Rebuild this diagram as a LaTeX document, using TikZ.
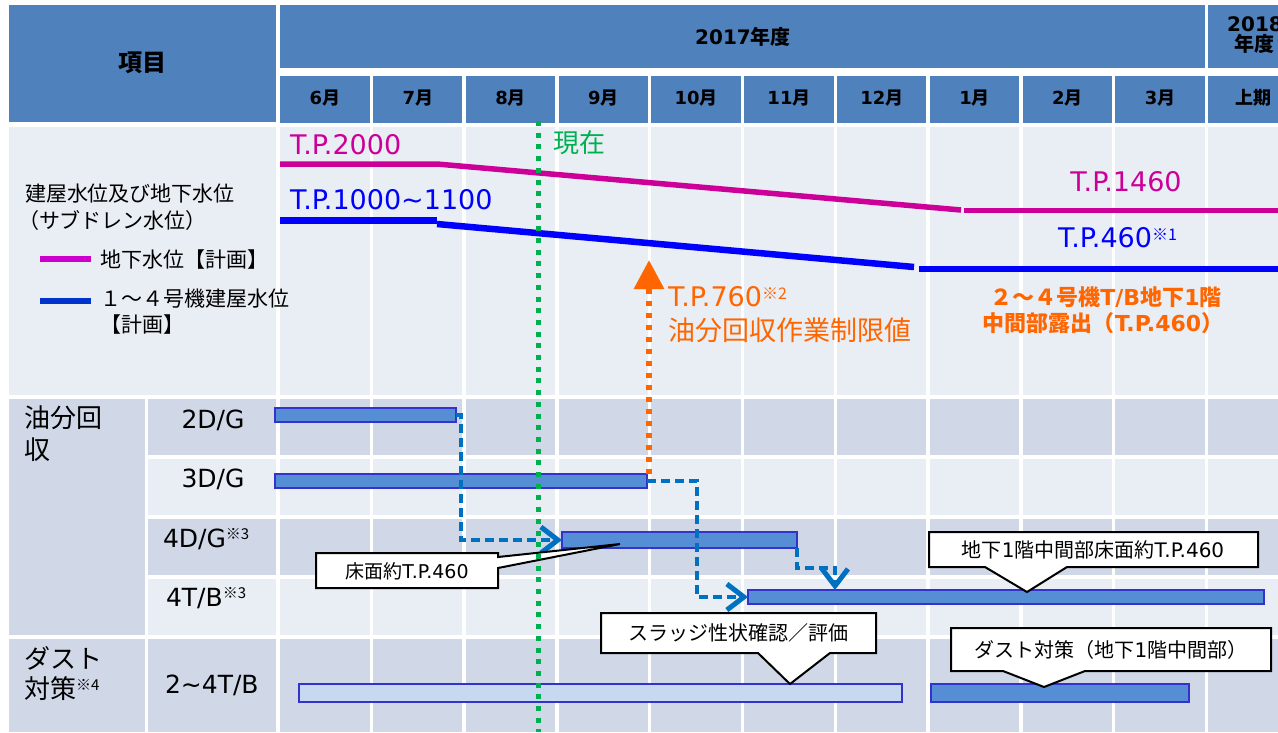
\documentclass[tikz,border=0pt]{standalone}
\usepackage{fontspec}
\setmainfont{DejaVu Sans}
\newfontfamily\J{Noto Sans CJK JP}
\usetikzlibrary{arrows.meta,calc}
\newcommand\sz[1]{\fontsize{#1}{#1}\selectfont}
\newcommand\kome[3]{\raisebox{#2pt}{\sz{#1}\J ※#3}}
\definecolor{hdr}{HTML}{4F81BD}
\definecolor{rowA}{HTML}{D0D8E8}
\definecolor{rowB}{HTML}{E9EDF4}
\definecolor{barF}{HTML}{558ED5}
\definecolor{barE}{HTML}{3333CC}
\definecolor{barL}{HTML}{C6D9F1}
\definecolor{mag}{HTML}{CC0099}
\definecolor{magL}{HTML}{CC00CC}
\definecolor{blu}{HTML}{0000FF}
\definecolor{bluL}{HTML}{0033CC}
\definecolor{grn}{HTML}{00B050}
\definecolor{org}{HTML}{FF6600}
\definecolor{conn}{HTML}{0070C0}
\tikzset{
  bar/.style={draw=barE, fill=barF, line width=2.5pt, inner sep=0pt, outer sep=0pt},
  barlight/.style={bar, fill=barL},
  connector/.style={draw=conn, line width=3.5pt, dash pattern=on 9pt off 5pt, -{Straight Barb[length=17pt,width=26pt,line width=5pt]}},
  callout/.style={draw=black, fill=white, line width=2pt, line join=miter},
  txt/.style={inner sep=0pt, outer sep=0pt},
  lt/.style={txt, anchor=west},
  hd/.style={txt, font=\sz{20}\bfseries},
  month/.style={txt, font=\sz{18}\bfseries},
}
\begin{document}
\begin{tikzpicture}[x=1pt, y=-1pt]
\useasboundingbox (0,0) rectangle (1278,732);
\clip (0,0) rectangle (1278,732);
% ---------- header
\fill[hdr] (9,5) rectangle (276,122);
\fill[hdr] (279.5,5) rectangle (1278,68);
\fill[hdr] (279.5,75.5) rectangle (1278,122.5);
\draw[white, line width=3.5pt] (1206.5,0) -- (1206.5,75);
% ---------- body rows
\fill[rowB] (9,127) rectangle (1278,395);
\fill[rowA] (9,398.5) rectangle (1278,455);
\fill[rowB] (9,459) rectangle (1278,515);
\fill[rowA] (9,519) rectangle (1278,575);
\fill[rowB] (9,579) rectangle (1278,635);
\fill[rowA] (9,639) rectangle (1278,732);
\fill[rowA] (9,398.5) rectangle (145,635);
\fill[rowA] (9,639) rectangle (145,732);
\draw[white, line width=3.5pt] (278,122) -- (278,732);
\draw[white, line width=3pt] (146.5,395) -- (146.5,732);
\foreach \i in {1,...,10} \draw[white, line width=3.5pt] ({278.5+92.8*\i},75) -- ({278.5+92.8*\i},732);
% ---------- header texts
\node[hd, font=\sz{24}\J\bfseries] (hitem) at (142,63) {項目};
\node[hd] (y2017) at (743,36.5) {2017{\J 年度}};
\node[hd] (y2018a) at (1255,24) {2018};
\node[hd] (y2018b) at (1254,44) {\J 年度};
\foreach \m [count=\i from 0] in {6,7,8,9,10,11,12,1,2,3}
  \node[month] (m\i) at ({325+92.8*\i},98) {\m{\J 月}};
\node[month] (mup) at (1253,98) {\J 上期};
% ---------- left legend
\node[lt, font=\sz{21}\J] (lg1) at (25,194) {建屋水位及び地下水位};
\node[lt, font=\sz{21}\J] (lg2) at (18,221) {（サブドレン水位）};
\draw[magL, line width=6pt] (40,259) -- (91,259);
\node[lt, font=\sz{21}\J] (lg3) at (100,260) {地下水位【計画】};
\draw[bluL, line width=6pt] (40,301) -- (91,301);
\node[lt, font=\sz{21}\J] (lg4) at (100,299) {１～４号機建屋水位};
\node[lt, font=\sz{21}\J] (lg5) at (100,325) {【計画】};
% ---------- row labels
\node[lt, font=\sz{26}\J] (g1a) at (24,418) {油分回};
\node[lt, font=\sz{26}\J] (g1b) at (24,450) {収};
\node[lt, font=\sz{26}\J] (g2a) at (24,658) {ダスト};
\node[lt, font=\sz{26}\J] (g2b) at (24,689) {対策\kome{15}{8}{4}};
\node[txt, font=\sz{25}] (l2dg) at (213,420) {2D/G};
\node[txt, font=\sz{25}] (l3dg) at (213,479) {3D/G};
\node[lt, font=\sz{25}] (l4dg) at (163,539) {4D/G\kome{15}{8}{3}};
\node[lt, font=\sz{25}] (l4tb) at (166,598) {4T/B\kome{15}{8}{3}};
\node[lt, font=\sz{25}] (ldust) at (165,685) {2\textasciitilde 4T/B};
% ---------- water level lines
\draw[mag, line width=5.5pt] (280,164) -- (437,164) -- (961,210);
\draw[mag, line width=5.5pt] (964,210.5) -- (1278,210.5);
\draw[blu, line width=6.5pt] (280,220.5) -- (437,220.5);
\draw[blu, line width=6.5pt] (437,224) -- (914,267);
\draw[blu, line width=6.5pt] (919,269) -- (1278,269);
\node[lt, text=mag, font=\sz{27}] (tp2000) at (290,145) {T.P.2000};
\node[lt, text=blu, font=\sz{27}] (tp1000) at (290,200) {T.P.1000\textasciitilde 1100};
\node[txt, text=mag, font=\sz{27}] (tp1460) at (1126,182) {T.P.1460};
\node[lt, text=blu, font=\sz{27}] (tp460) at (1058,238) {T.P.460\kome{16}{7}{1}};
\node[txt, text=org, font=\sz{22}\bfseries] (exp1) at (1106,297) {{\J ２～４号機}T/B{\J 地下}1{\J 階}};
\node[txt, text=org, font=\sz{22}\bfseries] (exp2) at (1103,323) {{\J 中間部露出（}T.P.460{\J ）}};
\node[lt, text=org, font=\sz{27}] (tp760) at (668,297) {T.P.760\kome{16}{7}{2}};
\node[lt, text=org, font=\sz{27}\J] (lim760) at (668,330) {油分回収作業制限値};
\node[lt, text=grn, font=\sz{26}\J] (now) at (553,143) {現在};
% ---------- bars
\node[bar, minimum width=181pt, minimum height=14pt] (b2dg) at (365.5,415) {};
\node[bar, minimum width=372pt, minimum height=14pt] (b3dg) at (461,481) {};
\node[bar, minimum width=235pt, minimum height=16pt] (b4dg) at (679.5,540) {};
\node[bar, minimum width=516pt, minimum height=14pt] (b4tb) at (1006,597) {};
\node[barlight, minimum width=603pt, minimum height=18pt] (bd1) at (600.5,693) {};
\node[bar, minimum width=258pt, minimum height=18pt] (bd2) at (1060,693) {};
% ---------- connectors
\draw[connector] (b2dg.east) -- ++(5,0) |- (b4dg.west);
\draw[connector] (b3dg.east) -- ++(50,0) |- (b4tb.west);
\coordinate (c3) at (835,568);
\draw[connector] (b4dg.south east) |- (c3) -- (c3 |- b4tb.north);
\coordinate (lim) at (649,260);
\draw[org, line width=6pt, dash pattern=on 5pt off 7pt, -{Triangle[length=29pt,width=29pt]}] (b3dg.north east -| lim) -- (lim);
% ---------- callouts
\draw[callout] (316,553) -- (498,553) -- (498,557) -- (620,544) -- (498,568) -- (498,588) -- (316,588) -- cycle;
\node[txt, font=\sz{19}] (cl1) at (407,571) {{\J 床面約}T.P.460};
\draw[callout] (929,532) -- (1258,532) -- (1258,567) -- (1067,567) -- (1027,592) -- (985,567) -- (929,567) -- cycle;
\node[txt, font=\sz{20}] (cl2) at (1093,550) {{\J 地下}1{\J 階中間部床面約}T.P.460};
\draw[callout] (601,613) -- (876,613) -- (876,653) -- (830,653) -- (790,684) -- (758,653) -- (601,653) -- cycle;
\node[txt, font=\sz{20}\J] (cl3) at (738.5,633) {スラッジ性状確認／評価};
\draw[callout] (951,628) -- (1271,628) -- (1271,671) -- (1085,671) -- (1044,687) -- (1003,671) -- (951,671) -- cycle;
\node[txt, font=\sz{20}] (cl4) at (1111,650) {{\J ダスト対策（地下}1{\J 階中間部）}};
% ---------- current date line
\draw[grn, line width=5pt, dash pattern=on 5pt off 6.7pt] (538.5,121) -- (538.5,732);
\end{tikzpicture}
\end{document}
